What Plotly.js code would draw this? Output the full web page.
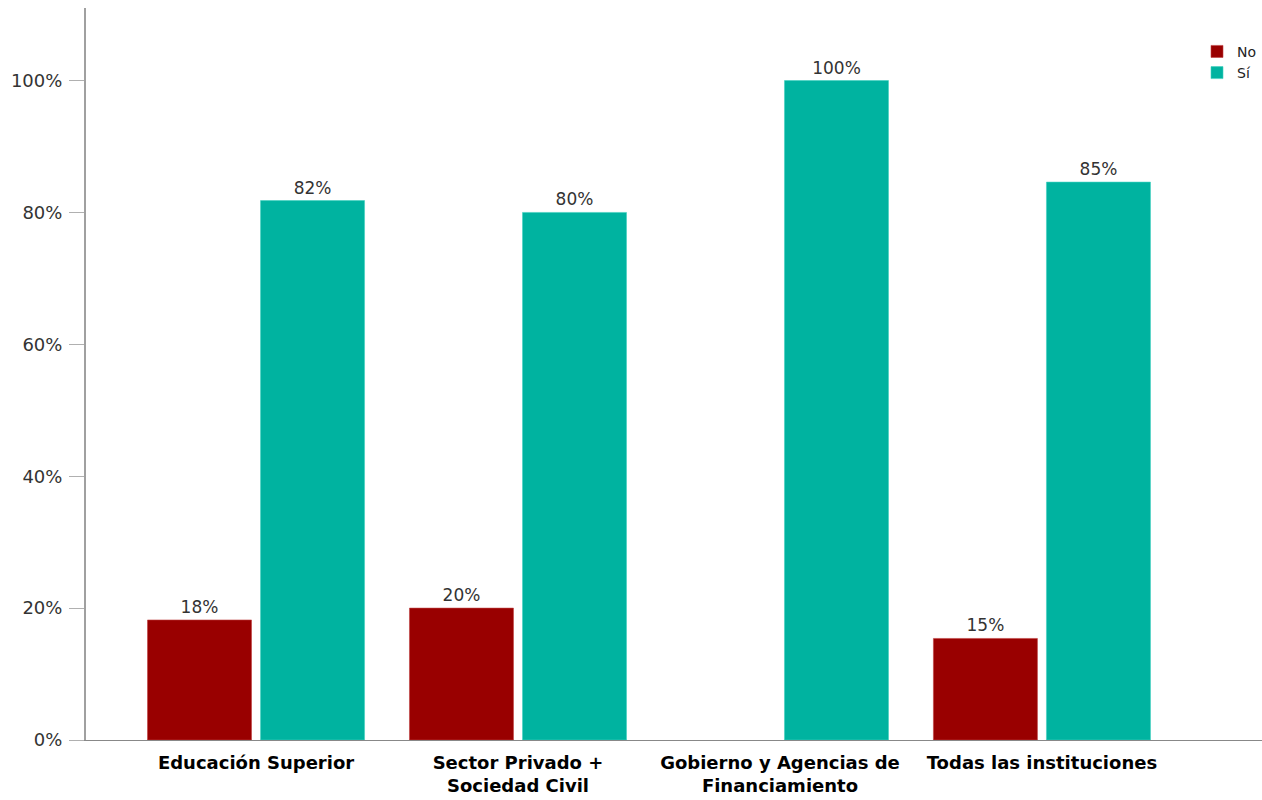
<!DOCTYPE html>
<html>
<head>
<meta charset="utf-8">
<script src="https://cdn.plot.ly/plotly-3.0.1.min.js"></script>
<style>html,body{margin:0;padding:0;background:#fff;}#chart{width:1262px;height:800px;}</style>
</head>
<body>
<div id="chart"></div>
<script>
var categories = ["Educación Superior", "Sector Privado +<br>Sociedad Civil", "Gobierno y Agencias de<br>Financiamiento", "Todas las instituciones"];
var noValues = [18.2, 20.0, 0, 15.4];
var siValues = [81.8, 80.0, 100, 84.6];
var noLabels = ["18%", "20%", "", "15%"];
var siLabels = ["82%", "80%", "100%", "85%"];
var yTicks = [0, 20, 40, 60, 80, 100];
var yTickLabels = ["0%", "20%", "40%", "60%", "80%", "100%"];

var labelFont = {family: "DejaVu Sans", size: 17, color: "#333"};

var traces = [
  {type: "bar", name: "No", x: categories, y: noValues, text: noLabels,
   textposition: "outside", textfont: labelFont, cliponaxis: false,
   marker: {color: "#990000", line: {color: "#c04040", width: [0.6, 0.6, 0, 0.6]}}, hoverinfo: "none"},
  {type: "bar", name: "Sí", x: categories, y: siValues, text: siLabels,
   textposition: "outside", textfont: labelFont, cliponaxis: false,
   marker: {color: "#00b3a0", line: {color: "#40d0c0", width: 0.6}}, hoverinfo: "none"}
];

var layout = {
  width: 1262, height: 800,
  margin: {l: 86, r: 0, t: 8, b: 60},
  paper_bgcolor: "#fff", plot_bgcolor: "#fff",
  barmode: "group", bargap: 0.137, bargroupgap: 0.08,
  showlegend: true,
  legend: {x: 1, y: 0.962, xanchor: "right", yanchor: "top",
           font: {family: "DejaVu Sans", size: 14, color: "#222"},
           itemwidth: 30, tracegroupgap: 0, bgcolor: "rgba(0,0,0,0)"},
  xaxis: {type: "category", range: [-0.649, 3.84], showgrid: false, zeroline: false,
          showline: true, linecolor: "#888", linewidth: 1, ticks: "",
          ticklabelstandoff: 6,
          tickfont: {family: "DejaVu Sans", size: 18, color: "#000", weight: "bold"}},
  yaxis: {range: [0, 111], showgrid: false, zeroline: false,
          showline: true, linecolor: "#a0a0a0", linewidth: 2,
          ticks: "outside", ticklen: 15, tickcolor: "#b0b0b0", tickwidth: 1,
          ticklabelstandoff: 3,
          tickvals: yTicks, ticktext: yTickLabels,
          tickfont: {family: "DejaVu Sans", size: 18, color: "#333"}}
};

Plotly.newPlot("chart", traces, layout, {displayModeBar: false, staticPlot: true});
</script>
</body>
</html>
